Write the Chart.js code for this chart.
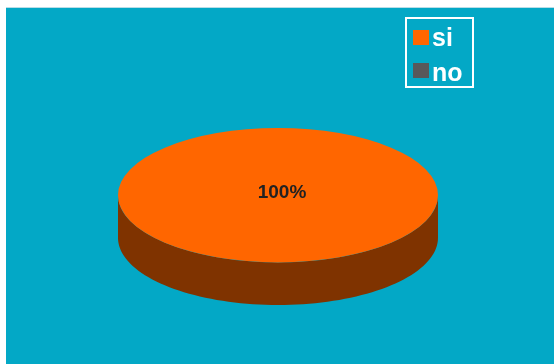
<!DOCTYPE html>
<html>
<head>
<meta charset="utf-8">
<script src="https://cdn.jsdelivr.net/npm/chart.js@4/dist/chart.umd.min.js"></script>
<style>
    html, body { margin: 0; padding: 0; background: #ffffff; }
    #wrap { position: relative; width: 554px; height: 364px; overflow: hidden; }
    #plot {
        position: absolute; left: 6px; top: 7px; right: 0; bottom: 0;
        background: #03a8c6; border-top: 1px solid #b9dde6;
    }
    #chart { position: absolute; left: 0; top: 0; }
    #legend {
        position: absolute; left: 405px; top: 17px; width: 65px; height: 67px;
        border: 2px solid #ffffff;
        font-family: "Liberation Sans", Arial, sans-serif; font-weight: bold;
        font-size: 25px; color: #ffffff;
    }
    #legend .box { position: absolute; left: 6px; width: 16px; height: 15px; }
    #legend .txt { position: absolute; left: 25px; height: 24px; line-height: 24px; white-space: nowrap; }
</style>
</head>
<body>
<div id="wrap">
    <div id="plot"></div>
    <canvas id="chart" width="554" height="364"></canvas>
    <div id="legend"></div>
</div>
<script>
// datos
const labels = ["si", "no"];
const values = [100, 0];
const topColors = ["#ff6600", "#58585a"];
const sideColors = ["#7f3300", "#2c2c2d"];

/* ---------- leyenda (HTML) ---------- */
const legendEl = document.getElementById("legend");
labels.forEach((lab, i) => {
    const box = document.createElement("span");
    box.className = "box";
    box.style.top = (11 + i * 33) + "px";
    box.style.background = topColors[i];
    const txt = document.createElement("span");
    txt.className = "txt";
    txt.style.top = (5.5 + i * 35) + "px";
    txt.textContent = lab;
    legendEl.appendChild(box);
    legendEl.appendChild(txt);
});

/* ---------- pastel 3D: inclina los arcos y dibuja el borde lateral ---------- */
const TILT = 0.42;

function ellipseOf(chart, arc) {
    const area = chart.chartArea;
    const a = (area.right - area.left) / 2;
    const b = a * TILT;
    const depth = (area.bottom - area.top) - 2 * b;
    return { cx: (area.left + area.right) / 2, cy: area.top + b, a, b, depth, r: arc.outerRadius, x: arc.x, y: arc.y };
}

const pie3d = {
    id: "pie3d",
    beforeDatasetsDraw(chart) {
        const meta = chart.getDatasetMeta(0);
        const ctx = chart.ctx;
        if (!meta.data.length) return;
        const e = ellipseOf(chart, meta.data[0]);

        // cara lateral (solo la mitad visible: angulos 0..PI)
        meta.data.forEach((arc, i) => {
            const s = arc.startAngle, en = arc.endAngle;
            if (en - s <= 0) return;
            const segs = [];
            for (let k = -1; k <= 1; k++) {
                const lo = Math.max(s - k * 2 * Math.PI, 0);
                const hi = Math.min(en - k * 2 * Math.PI, Math.PI);
                if (hi > lo) segs.push([lo, hi]);
            }
            segs.forEach(([lo, hi]) => {
                ctx.save();
                ctx.beginPath();
                const n = 80;
                for (let j = 0; j <= n; j++) {
                    const t = lo + (hi - lo) * j / n;
                    const px = e.cx + e.a * Math.cos(t), py = e.cy + e.b * Math.sin(t);
                    j === 0 ? ctx.moveTo(px, py) : ctx.lineTo(px, py);
                }
                for (let j = n; j >= 0; j--) {
                    const t = lo + (hi - lo) * j / n;
                    ctx.lineTo(e.cx + e.a * Math.cos(t), e.cy + e.depth + e.b * Math.sin(t));
                }
                ctx.closePath();
                ctx.fillStyle = sideColors[i];
                ctx.fill();
                ctx.restore();
            });
        });

        // cara superior: aplastar el pastel normal en una elipse
        ctx.save();
        ctx.translate(e.cx, e.cy);
        ctx.scale(e.a / e.r, e.b / e.r);
        ctx.translate(-e.x, -e.y);
    },
    afterDatasetsDraw(chart) {
        const meta = chart.getDatasetMeta(0);
        const ctx = chart.ctx;
        if (!meta.data.length) return;
        ctx.restore();
        const e = ellipseOf(chart, meta.data[0]);
        const total = values.reduce((p, c) => p + c, 0);

        // etiquetas de porcentaje
        ctx.save();
        ctx.font = "bold 19px 'Liberation Sans', Arial, sans-serif";
        ctx.fillStyle = "#222222";
        ctx.textAlign = "center";
        ctx.textBaseline = "middle";
        meta.data.forEach((arc, i) => {
            if (!values[i]) return;
            const pct = Math.round(values[i] / total * 100) + "%";
            let lx = e.cx, ly = e.cy;
            if (values[i] < total) {
                const mid = (arc.startAngle + arc.endAngle) / 2;
                lx = e.cx + e.a * 0.6 * Math.cos(mid);
                ly = e.cy + e.b * 0.6 * Math.sin(mid);
            }
            ctx.fillText(pct, lx + 4, ly - 2);
        });
        ctx.restore();
    }
};

new Chart(document.getElementById("chart"), {
    type: "pie",
    data: {
        labels: labels,
        datasets: [{
            data: values,
            backgroundColor: topColors,
            borderWidth: 0
        }]
    },
    options: {
        responsive: false,
        animation: false,
        layout: { padding: { left: 118, right: 116, top: 128, bottom: 59 } },
        plugins: {
            legend: { display: false },
            tooltip: { enabled: false }
        }
    },
    plugins: [pie3d]
});
</script>
</body>
</html>
